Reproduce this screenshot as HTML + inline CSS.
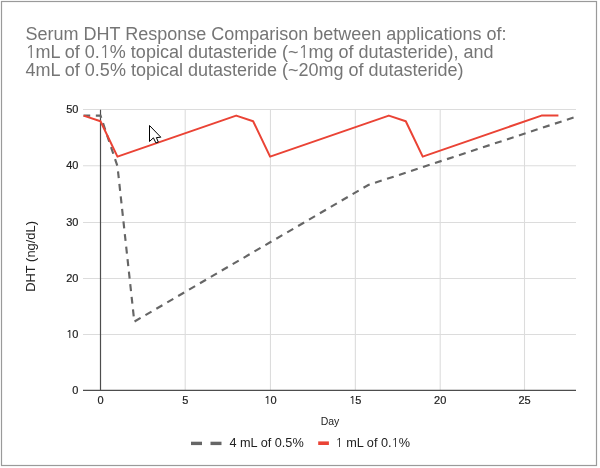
<!DOCTYPE html>
<html><head><meta charset="utf-8">
<style>
html,body{margin:0;padding:0;background:#fff;width:600px;height:468px;overflow:hidden}
svg{display:block;font-family:"Liberation Sans",Arial,sans-serif}
</style></head>
<body>
<svg width="600" height="468" viewBox="0 0 600 468">
<rect x="0" y="0" width="600" height="468" fill="#fff"/>
<rect x="1.5" y="1.5" width="595" height="464" fill="none" stroke="#9a9a9a" stroke-width="1.2"/>
<g fill="#757575" font-size="18">
<text x="25.5" y="40">Serum DHT Response Comparison between applications of:</text>
<text x="25.5" y="58"><tspan font-family="NanumGothic,&quot;Liberation Sans&quot;,sans-serif" font-size="17.28">1</tspan><tspan dx="-0.47">mL of 0.</tspan><tspan font-family="NanumGothic,&quot;Liberation Sans&quot;,sans-serif" font-size="17.28">1</tspan><tspan dx="-0.47">% topical dutasteride (~</tspan><tspan font-family="NanumGothic,&quot;Liberation Sans&quot;,sans-serif" font-size="17.28">1</tspan><tspan dx="-0.47">mg of dutasteride), and</tspan></text>
<text x="25.5" y="76">4mL of 0.5% topical dutasteride (~20mg of dutasteride)</text>
</g>
<g stroke="#dcdcdc" stroke-width="1.1"><line x1="83" y1="334.45" x2="576" y2="334.45"/><line x1="83" y1="278.45" x2="576" y2="278.45"/><line x1="83" y1="222.45" x2="576" y2="222.45"/><line x1="83" y1="165.75" x2="576" y2="165.75"/><line x1="83" y1="109.55" x2="576" y2="109.55"/><line x1="185.20" y1="109" x2="185.20" y2="390.3"/><line x1="270.45" y1="109" x2="270.45" y2="390.3"/><line x1="355.35" y1="109" x2="355.35" y2="390.3"/><line x1="440.20" y1="109" x2="440.20" y2="390.3"/><line x1="524.50" y1="109" x2="524.50" y2="390.3"/></g>
<line x1="100.50" y1="109.8" x2="100.50" y2="390.3" stroke="#4d4d4d" stroke-width="1.2"/>
<line x1="83" y1="390.4" x2="576" y2="390.4" stroke="#4d4d4d" stroke-width="1.2"/>
<g fill="#222" stroke="#222" stroke-width="0.2" font-size="11" text-anchor="end"><text x="78.4" y="393.80">0</text><text x="78.4" y="337.95"><tspan font-family="NanumGothic,&quot;Liberation Sans&quot;,sans-serif" font-size="10.56">1</tspan><tspan dx="-0.29">0</tspan></text><text x="78.4" y="281.95">20</text><text x="78.4" y="225.95">30</text><text x="78.4" y="169.25">40</text><text x="78.4" y="113.05">50</text></g>
<g fill="#222" stroke="#222" stroke-width="0.2" font-size="11" text-anchor="middle"><text x="100.50" y="404.2">0</text><text x="185.20" y="404.2">5</text><text x="270.45" y="404.2"><tspan font-family="NanumGothic,&quot;Liberation Sans&quot;,sans-serif" font-size="10.56">1</tspan><tspan dx="-0.29">0</tspan></text><text x="355.35" y="404.2"><tspan font-family="NanumGothic,&quot;Liberation Sans&quot;,sans-serif" font-size="10.56">1</tspan><tspan dx="-0.29">5</tspan></text><text x="440.20" y="404.2">20</text><text x="524.50" y="404.2">25</text></g>
<text x="330" y="424.6" fill="#222" font-size="10.5" text-anchor="middle">Day</text>
<text transform="translate(34.8,256.4) rotate(-90)" fill="#222" font-size="12.9" text-anchor="middle">DHT (ng/dL)</text>
<polyline fill="none" stroke="#666" stroke-width="2.15" stroke-dasharray="7 5.625" stroke-dashoffset="0.33" points="83.54,115.6 100.5,115.6 117.46,166.2 134.3,321.6 368.3,185.0 575.4,116.9"/>
<polyline fill="none" stroke="#ea4335" stroke-width="2" stroke-linejoin="round" points="83.54,115.62 100.50,121.23 117.46,156.61 236.18,115.62 253.14,121.23 270.10,156.61 388.82,115.62 405.78,121.23 422.74,156.61 541.46,115.62 558.42,115.62"/>
<g stroke="#666" stroke-width="3.4">
<line x1="191" y1="443.4" x2="202" y2="443.4"/>
<line x1="210.5" y1="443.4" x2="221.5" y2="443.4"/>
</g>
<text x="229.4" y="447" fill="#222" font-size="12.7">4 mL of 0.5%</text>
<line x1="318.2" y1="443.2" x2="328.9" y2="443.2" stroke="#ea4335" stroke-width="3.6"/>
<text x="335.6" y="447" fill="#222" font-size="12.7"><tspan font-family="NanumGothic,&quot;Liberation Sans&quot;,sans-serif" font-size="12.19">1</tspan><tspan dx="-0.33"> mL of 0.</tspan><tspan font-family="NanumGothic,&quot;Liberation Sans&quot;,sans-serif" font-size="12.19">1</tspan><tspan dx="-0.33">%</tspan></text>
<path d="M149.5,125.5 L149.5,141.5 L153.4,137.8 L155.9,142.9 L158.3,142.1 L156.4,137.6 L160.8,137.2 Z" fill="#fff" stroke="#000" stroke-width="1" stroke-linejoin="round"/>
</svg>
</body></html>
